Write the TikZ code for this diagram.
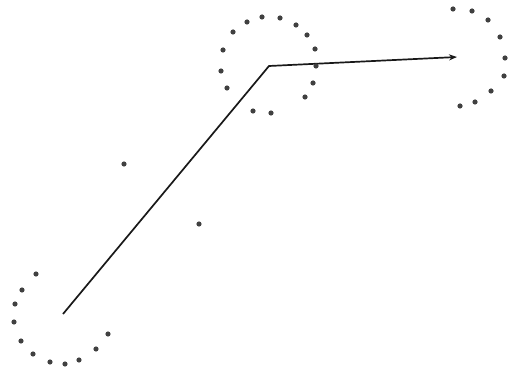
\documentclass[tikz,border=0pt]{standalone}
\usetikzlibrary{arrows.meta}
\begin{document}
\begin{tikzpicture}[x=1pt,y=-1pt,
  dotmark/.style={fill=black!75,draw=none},
  pathline/.style={line width=1.7pt,black!90}]
\useasboundingbox (0,0) rectangle (511,374);
\coordinate (A) at (63,314);
\coordinate (B) at (269,66);
\coordinate (C) at (457,57);
\draw[pathline,-{Stealth[length=8pt,width=6pt]}] (A) -- (B) -- (C);
\foreach \p in {(36,274),(22,290),(15,304),(14,322),(21,341),(33,354),(50,362),(65,364),(79,360),(96,349),(108,334),
  (247,22),(262,17),(280,18),(296,25),(307,35),(315,49),(316,66),(313,83),(305,97),(271,113),(253,111),(227,88),(221,71),(223,50),(233,32),
  (453,9),(472,11),(488,20),(500,37),(505,58),(504,76),(491,91),(475,102),(460,106),
  (124,164),(199,224)}
  \fill[dotmark] \p circle (2.6);
\end{tikzpicture}
\end{document}
